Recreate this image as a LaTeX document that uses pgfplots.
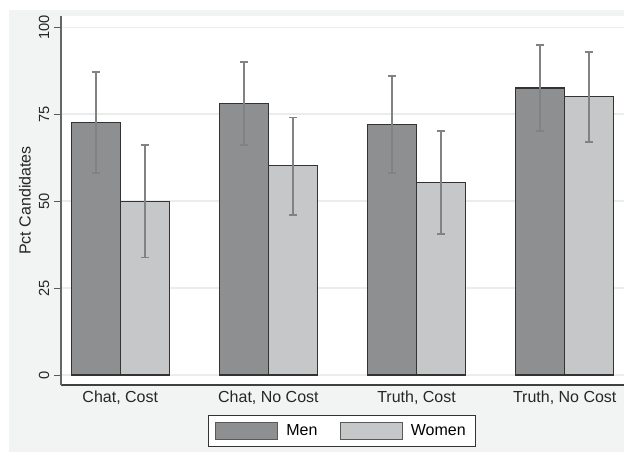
\documentclass[border=0pt]{standalone}
\usepackage{pgfplots}
\pgfplotsset{compat=1.18}
\usepackage{fontspec}
\setmainfont{Liberation Sans}
\definecolor{bgout}{HTML}{F2F4F3}
\definecolor{menc}{HTML}{8E8F91}
\definecolor{womc}{HTML}{C6C7C9}
\definecolor{errc}{HTML}{808283}
\definecolor{gridc}{HTML}{EBEDEC}
\definecolor{edgec}{HTML}{333333}
\begin{document}
\begin{tikzpicture}
\useasboundingbox (0pt,0pt) rectangle (468pt,352.5pt);
\fill[bgout] (6.75pt,13.5pt) rectangle (468pt,345pt);
\begin{axis}[
  at={(45.75pt,63.75pt)}, anchor=south west,
  scale only axis, width=422.25pt, height=276.75pt,
  axis background/.style={fill=white},
  ybar=0pt, bar width=36.75pt,
  xmin=-0.4, xmax=3.4, ymin=-2.87, ymax=103.2,
  xtick={0,1,2,3}, xticklabels={{Chat, Cost},{Chat, No Cost},{Truth, Cost},{Truth, No Cost}},
  x tick style={draw=none},
  xticklabel style={font=\fontsize{12}{14}\selectfont, text=black!85, yshift=4.5pt},
  ytick={0,25,50,75,100},
  yticklabel style={rotate=90, anchor=south, font=\fontsize{11}{13}\selectfont, text=black!85},
  /pgf/number format/assume math mode=true,
  tick align=outside, ytick style={draw=black!65, line width=0.75pt},
  major tick length=5.25pt,
  ymajorgrids, grid style={gridc, line width=0.9pt},
  axis x line*=bottom, axis y line*=left,
  x axis line style={draw=black!75, line width=0.9pt, -},
  y axis line style={draw=black!60, line width=0.9pt, -},
  ylabel={Pct Candidates},
  every axis y label/.style={at={(axis description cs:-0.064,0.5)}, rotate=90, anchor=center,
    font=\fontsize{12}{14}\selectfont, text=black!85},
  legend columns=2,
  legend style={at={(0.499,-0.1247)}, anchor=center, draw=edgec, line width=0.6pt, fill=white,
    font=\fontsize{12}{14}\selectfont, inner xsep=5pt, inner ysep=4.5pt,
    /tikz/every odd column/.append style={column sep=4pt},
    /tikz/every even column/.append style={column sep=15pt}},
  legend image code/.code={\draw[#1, draw=black!65, line width=0.6pt] (0pt,-6.4pt) rectangle (46.5pt,6.4pt);},
  error bars/y dir=both, error bars/y explicit,
  error bars/error bar style={errc, line width=1.3pt},
  error bars/error mark options={errc, line width=1.3pt, mark size=3pt, rotate=90},
]
\addplot[fill=menc, draw=edgec, line width=0.8pt]
  table[x=x, y=y, y error plus=ep, y error minus=em] {
x y ep em
0 72.5 14.6 14.5
1 78.0 11.9 11.9
2 72.0 14.0 13.9
3 82.5 12.3 12.3
};
\addplot[fill=womc, draw=edgec, line width=0.8pt]
  table[x=x, y=y, y error plus=ep, y error minus=em] {
x y ep em
0 50.0 16.2 16.2
1 60.1 13.9 14.1
2 55.4 14.7 14.8
3 80.0 12.9 13.0
};
\legend{Men, Women}
\end{axis}
\end{tikzpicture}
\end{document}
